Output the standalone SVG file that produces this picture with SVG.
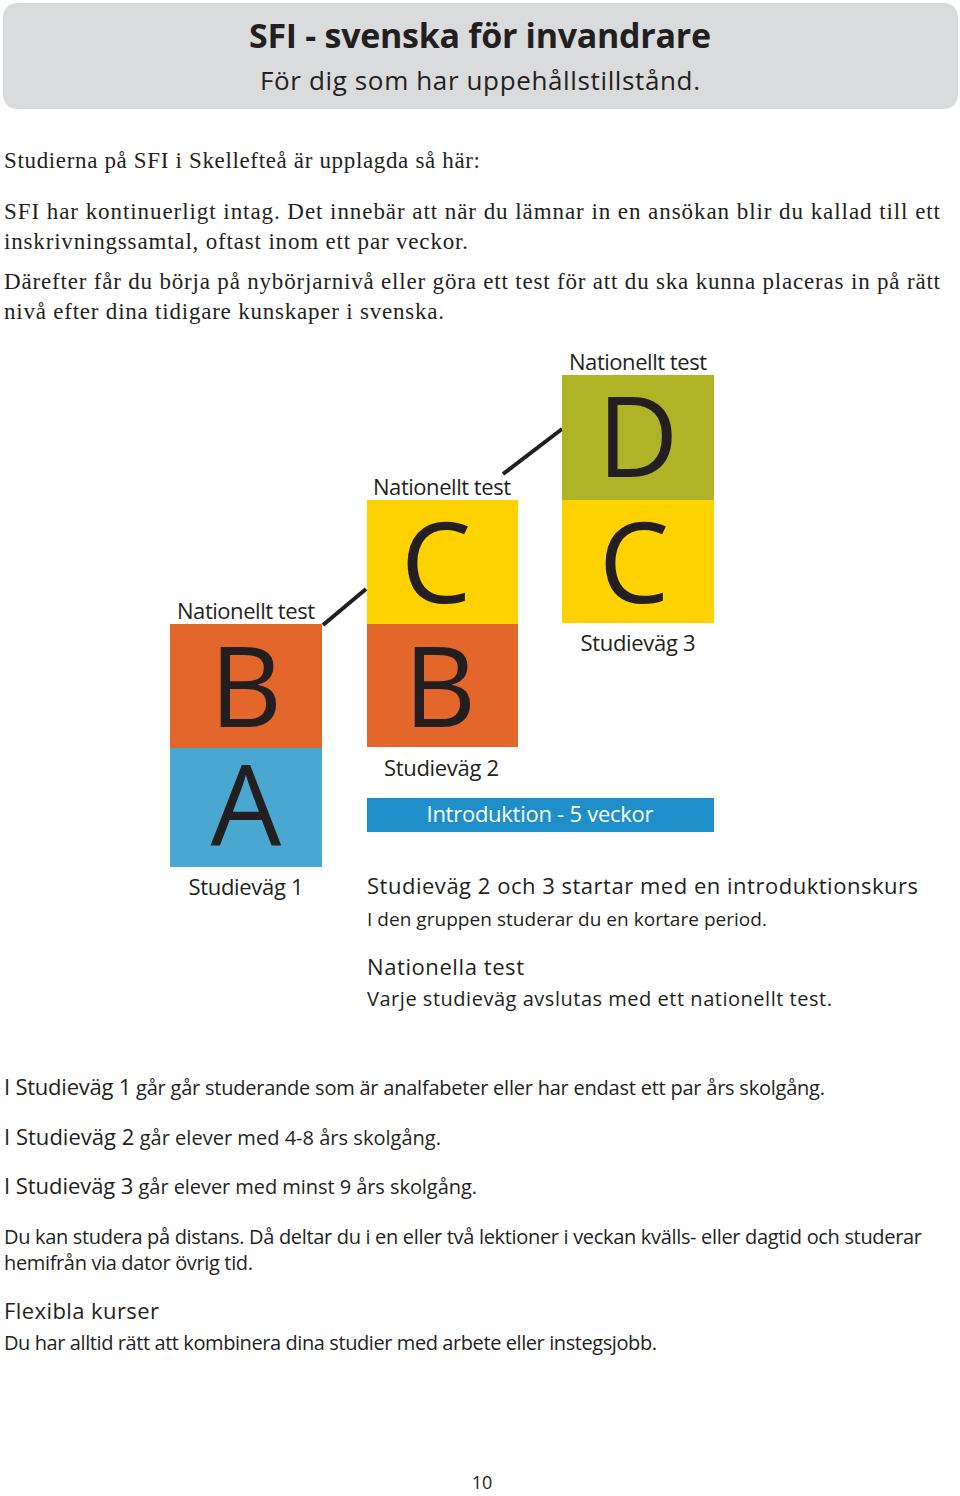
<svg xmlns="http://www.w3.org/2000/svg" width="960" height="1496" viewBox="0 0 960 1496">
<style>
.s{font-family:"Liberation Serif",serif;font-size:23px;fill:#231f20}
.f{font-family:"Open Sans","Liberation Sans",sans-serif;fill:#231f20}
.big{font-family:"Open Sans","Liberation Sans",sans-serif;font-size:112px;fill:#231f20;text-anchor:middle}
.lab{font-family:"Open Sans","Liberation Sans",sans-serif;font-size:22px;fill:#231f20;text-anchor:middle}
.w{fill:#fff}
.st{text-anchor:start}
</style>
<rect width="960" height="1496" fill="#fff"/>
<g id="header">
<rect x="3" y="3" width="955" height="106" rx="14" fill="#dadbdc"/>
<text x="480" y="48" class="f" font-size="34" font-weight="bold" text-anchor="middle" textLength="462">SFI - svenska för invandrare</text>
<text x="480" y="90" class="f" font-size="26" text-anchor="middle" textLength="440">För dig som har uppehållstillstånd.</text>
</g>
<g id="intro">
<text x="4" y="168" class="s" textLength="476">Studierna på SFI i Skellefteå är upplagda så här:</text>
<text x="4" y="219" class="s" textLength="936">SFI har kontinuerligt intag. Det  innebär att när du lämnar in en ansökan blir du kallad till ett</text>
<text x="4" y="249" class="s" textLength="464">inskrivningssamtal, oftast inom ett par veckor.</text>
<text x="4" y="289" class="s" textLength="936">Därefter får du börja på nybörjarnivå eller göra ett test för att du ska kunna placeras in på rätt</text>
<text x="4" y="319" class="s" textLength="440">nivå efter dina tidigare kunskaper i svenska.</text>
</g>
<g id="connectors" stroke="#231f20" stroke-width="4">
<line x1="323" y1="625" x2="366" y2="589"/>
<line x1="503" y1="474" x2="562" y2="429"/>
</g>
<g id="col1">
<rect x="170" y="624" width="152" height="124" fill="#e3672a"/>
<rect x="170" y="748" width="152" height="119" fill="#4aa8d0"/>
<text x="246" y="727" class="big">B</text>
<text x="246" y="845" class="big">A</text>
<text x="246" y="619" class="lab" textLength="138">Nationellt test</text>
<text x="246" y="895" class="lab" textLength="115">Studieväg 1</text>
</g>
<g id="col2">
<rect x="367" y="500" width="151" height="124" fill="#ffd200"/>
<rect x="367" y="624" width="151" height="123" fill="#e3672a"/>
<text x="436" y="603" class="big">C</text>
<text x="440" y="727" class="big">B</text>
<text x="442" y="495" class="lab" textLength="138">Nationellt test</text>
<text x="384" y="776" class="lab st" textLength="115">Studieväg 2</text>
</g>
<g id="col3">
<rect x="562" y="375" width="152" height="125" fill="#aeb425"/>
<rect x="562" y="500" width="152" height="123" fill="#ffd200"/>
<text x="638" y="477" class="big">D</text>
<text x="634" y="603" class="big">C</text>
<text x="638" y="370" class="lab" textLength="138">Nationellt test</text>
<text x="638" y="651" class="lab" textLength="115">Studieväg 3</text>
</g>
<g id="introbar">
<rect x="367" y="798" width="347" height="34" fill="#1e8fc8"/>
<text x="540" y="822" class="lab w" textLength="227">Introduktion - 5 veckor</text>
</g>
<g id="notes">
<text x="367" y="894" class="f" font-size="22" font-weight="500" textLength="551">Studieväg 2 och 3 startar med en introduktionskurs</text>
<text x="367" y="926" class="f" font-size="19" textLength="400">I den gruppen studerar du en kortare period.</text>
<text x="367" y="975" class="f" font-size="22" textLength="157">Nationella test</text>
<text x="367" y="1006" class="f" font-size="20" textLength="465">Varje studieväg avslutas med ett nationellt test.</text>
</g>
<g id="bottom">
<text x="4" y="1095" class="f" font-size="20" textLength="821"><tspan font-size="22">I Studieväg 1</tspan> går går studerande som är analfabeter eller har endast ett par års skolgång.</text>
<text x="4" y="1145" class="f" font-size="20" textLength="437"><tspan font-size="22">I Studieväg 2</tspan> går elever med 4-8 års skolgång.</text>
<text x="4" y="1194" class="f" font-size="20" textLength="473"><tspan font-size="22">I Studieväg 3</tspan> går elever med minst 9 års skolgång.</text>
<text x="4" y="1244" class="f" font-size="20" textLength="918">Du kan studera på distans. Då deltar du i en eller två lektioner i veckan kvälls- eller dagtid och studerar</text>
<text x="4" y="1270" class="f" font-size="20" textLength="249">hemifrån via dator övrig tid.</text>
<text x="4" y="1319" class="f" font-size="22" textLength="155">Flexibla kurser</text>
<text x="4" y="1350" class="f" font-size="20" textLength="653">Du har alltid rätt att kombinera dina studier med arbete eller instegsjobb.</text>
<text x="482" y="1489" class="f" font-size="18" text-anchor="middle">10</text>
</g>
</svg>
